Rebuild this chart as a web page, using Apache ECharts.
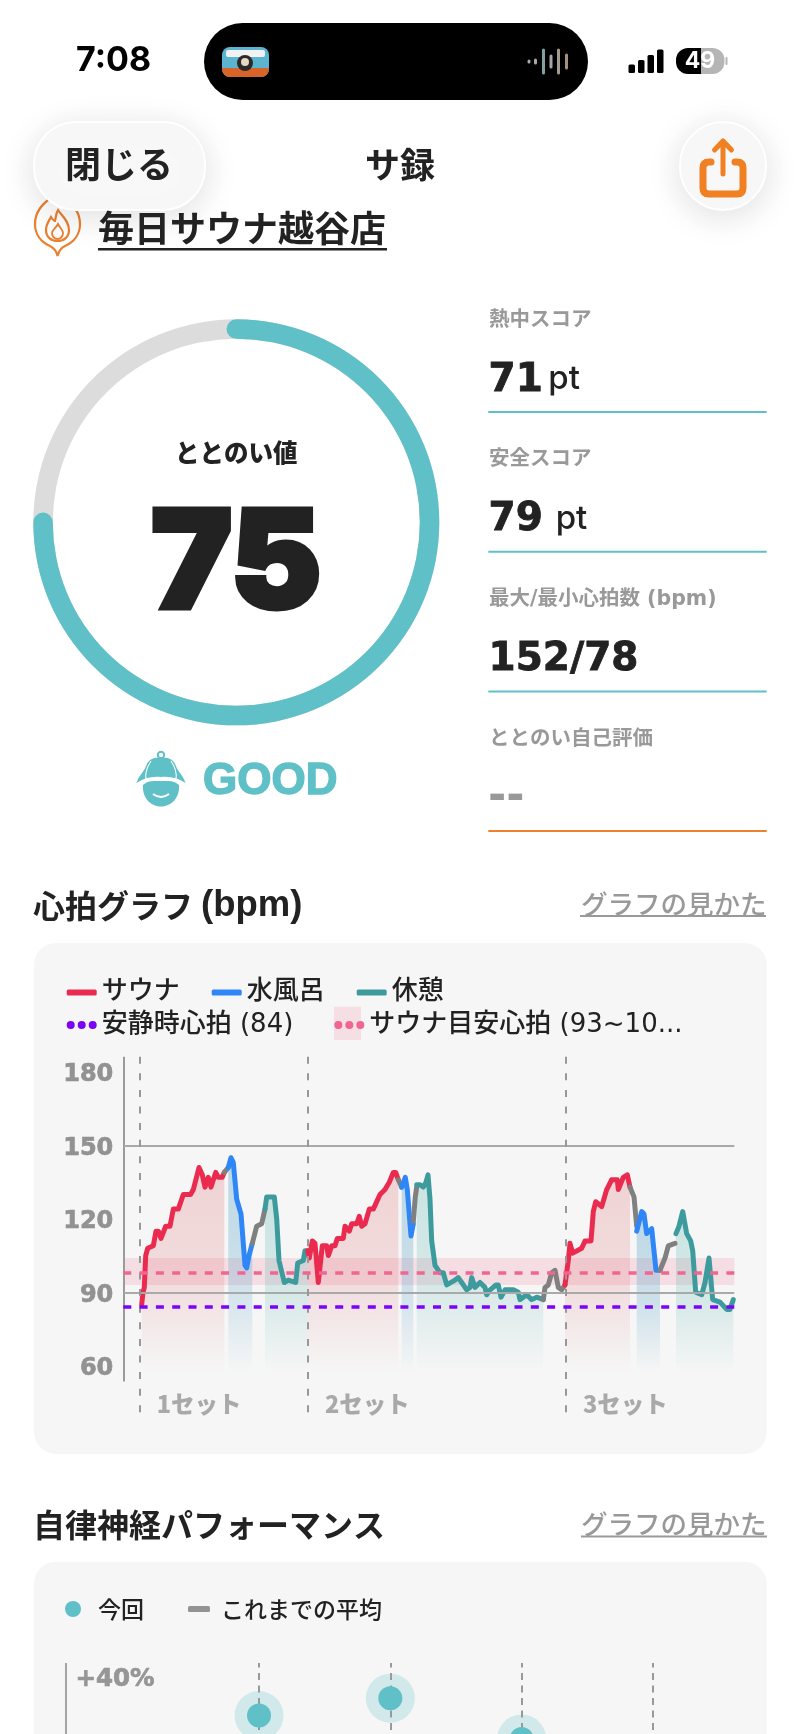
<!DOCTYPE html>
<html><head><meta charset="utf-8">
<style>html,body{margin:0;padding:0;background:#fff}#c{width:800px;height:1734px}</style>
<script src="https://cdn.jsdelivr.net/npm/echarts@6/dist/echarts.min.js"></script>
</head><body><div id="c"></div>
<script>
// ---- gauge and score data
const totalScore = 75;
const scoreLabels = ['熱中スコア','安全スコア','最大/最小心拍数 (bpm)','ととのい自己評価'];
const scoreValues = ['71','79','152/78','--'];
const scoreUnits = ['pt','pt','',''];
// ---- heart rate: [elapsed position, bpm]
const yTicks = [60,90,120,150,180];
const restingHr = 84;
const targetLow = 93, targetMid = 98, targetHigh = 104;
const setStarts = [16.4,184.4,442.4];
const setLabels = ['1セット','2セット','3セット'];
const setLabelPos = [33.4,201.7,459.7];
const sauna1 = [[18.4,85],[19.7,90],[21,92],[22.4,105],[24.4,108],[30,109],[32.7,115],[35,115],[37.7,112],[42.4,117],[46.7,117],[50,124],[55,124],[60,130],[67.4,130],[70,132],[75.7,141],[79,138],[81.7,133],[85,137],[87.7,133],[92.4,139],[95,137],[99,137],[101,139]];
const move1a = [[101,139],[105,141]];
const water1 = [[105,141],[107.7,145],[110,143],[113.4,128],[117.7,122],[121.7,101],[123.4,100],[125.7,105],[129,110]];
const move1b = [[129,110],[133.4,117],[138.4,118],[141.7,124]];
const rest1 = [[141.7,124],[143.4,129],[151,129],[153.4,120],[155.7,103],[161,94],[165,95],[172.4,94],[174.4,102],[180,103],[181.7,107],[184.4,107]];
const sauna2 = [[184.4,107],[186,104],[189,111],[191.7,110],[195,94],[199,109],[203.4,109],[205,105],[208.4,109],[211.7,109],[214,112],[220,112],[221.7,117],[226,115],[228.4,118],[233.4,118],[236,121],[238.4,117],[241.7,118],[246,124],[250,124],[256.7,130],[261.7,132],[266,135],[270,139],[272.4,139],[275,136]];
const move2a = [[275,136],[278.4,133]];
const water2 = [[278.4,133],[280,133],[282,137],[284,132],[286.7,118],[287.7,113],[290,118]];
const move2b = [[290,119],[292,129],[293.4,133]];
const rest2 = [[293.4,134],[296.7,134],[300,133],[302.7,135],[304.7,138],[306.7,128],[308.4,111],[311.7,101],[316.7,98],[320,98],[323.4,93],[331.7,95],[335,96],[338.4,94],[343.4,91],[346.7,92],[348.4,96],[351.7,92],[356.7,94],[361.7,92],[363.4,89],[366.7,91],[372.7,93],[375,93],[377.7,88],[381.7,91],[390,91],[395,90],[396.7,87],[403.4,89],[408.4,87],[413.4,88],[420,87]];
const move3a = [[420,87],[421.7,92],[425,93],[428.4,98],[431.7,99],[435,92],[438.4,91],[441.7,93]];
const sauna3 = [[441.7,93],[445,103],[446.7,110],[449.4,106],[458.4,108],[461.7,111],[467.7,111],[470,123],[472.4,127],[478.4,125],[483.4,132],[488.4,136],[494,136],[495,132],[500,137],[504,138],[506.7,133]];
const move3b = [[506.7,133],[510.7,129],[513.4,117]];
const water3 = [[513.4,115],[518.4,123],[520.7,122],[523.4,114],[528.4,116],[532.7,99],[536.7,99]];
const move3c = [[536.7,99],[541.7,104],[545,109],[551.7,110]];
const rest3 = [[552.7,114],[555.7,117],[559.4,123],[563.4,114],[567.4,111],[569.4,107],[572.4,90],[578.4,89],[581.7,94],[585.7,104],[589.4,87],[596.7,86],[603.4,83],[606.7,83],[610,87]];
// ---- autonomic performance
const perfPositions = [0,1,2,3];
const perfToday = [27.8,33.6,20];

// ---- style helpers
const TEAL='#5fc0c8', INK='#222222', GREY='#999999', ORANGE='#ef8030';
const SANS='Inter,"Noto Sans CJK JP",sans-serif', JP='"Noto Sans CJK JP",sans-serif', WIDE='"DejaVu Sans",sans-serif', WIDEJP='"DejaVu Sans","Noto Sans CJK JP",sans-serif', HEL='"Liberation Sans",sans-serif';
const RED='#ea2a4f', BLUE='#2f87f7', GREEN='#3e9b9d', MOVE='#808080';
const T=(text,x,y,o={})=>({type:'text',x,y,z:11,silent:true,style:Object.assign({text,fontFamily:JP,fontSize:20,fontWeight:700,fill:INK,align:'left',verticalAlign:'middle'},o)});
const R=(x,y,width,height,fill,r=0,extra={})=>({type:'rect',z:extra.z==null?0:extra.z,silent:true,shape:{x,y,width,height,r},style:Object.assign({fill},extra.style||{})});
const shadow={shadowBlur:34,shadowColor:'rgba(0,0,0,0.13)',shadowOffsetY:6,stroke:'#ffffff',lineWidth:2};

const graphics=[
  // status bar
  T('7:08',76,61,{fontFamily:SANS,fontSize:34,fontWeight:700,fill:'#000'}),
  R(204,23,384,77,'#000',38.5),
  R(222,47,47,30,'#5bb5d0',8,{z:1}),
  R(222,68,47,9,'#d9642a',[0,0,8,8],{z:1}),
  R(226,50,39,7,'#f2f2f2',2,{z:1}),
  {type:'circle',z:2,silent:true,shape:{cx:245,cy:63,r:8},style:{fill:'#2a2a2a'}},
  {type:'circle',z:2,silent:true,shape:{cx:245,cy:62,r:4},style:{fill:'#e8d8c0'}},
  R(527.5,59.5,3,4,'#a8a8a8',1.5,{z:1}),R(534,58.5,3,6,'#a8a8a8',1.5,{z:1}),
  R(542,48.5,3,26,'#7fa3a3',1.5,{z:1}),R(549.5,54.5,3,14,'#a5a5a5',1.5,{z:1}),
  R(557,48.5,3,26,'#a39a8e',1.5,{z:1}),R(565,53.5,3,16,'#a3917f',1.5,{z:1}),
  R(628.5,64.5,6.5,8.5,'#000',1.5),R(638,60,6.5,13,'#000',1.5),R(647.5,55,6.5,18,'#000',1.5),R(657,49.5,6.5,23.5,'#000',1.5),
  R(676,48,25,26,'#000',[12,0,0,12]),R(701,48,23.5,26,'#b5b5b5',[0,12,12,0]),R(725.5,57,2,8,'#b5b5b5',1),
  T('49',700,61.5,{fontFamily:SANS,fontSize:23,fontWeight:700,fill:'#fff',align:'center'}),
  // header
  R(34,122,171,88,'#f8f8f8',42,{z:10,style:shadow}),
  R(680,122,86,88,'#f8f8f8',43,{z:10,style:shadow}),
  T('閉じる',119,164,{fontSize:36,fontWeight:600,align:'center'}),
  T('サ録',400,164.5,{fontSize:35,fontWeight:700,align:'center'}),
  T('毎日サウナ越谷店',98,228,{fontSize:36,fontWeight:700}),
  R(98,248,289,2.5,INK),
  // gauge extras
  T('GOOD',203,782,{fontFamily:HEL,fontSize:44,fontWeight:700,fill:TEAL,stroke:TEAL,lineWidth:1.4}),
  // score lines
  R(488.3,411,278.4,2,TEAL),R(488.3,550.8,278.4,2,TEAL),R(488.3,690.4,278.4,2,TEAL),R(488.3,830,278.4,2,ORANGE),
  // section 1
  T('心拍グラフ',33,906,{fontFamily:JP,fontSize:32,fontWeight:700}),
  T('(bpm)',201,906,{fontFamily:HEL,fontSize:36.5,fontWeight:700}),
  T('グラフの見かた',581,904,{fontSize:26.5,fontWeight:500,fill:GREY}),
  R(580,915,186,2,GREY),
  R(34,943,732.7,511,'#f6f6f6',22),
  R(334,1006.7,27,33.3,'#f5dfe5'),
  // section 2
  T('自律神経パフォーマンス',33,1525,{fontSize:32,fontWeight:700}),
  T('グラフの見かた',581,1524,{fontSize:26.5,fontWeight:500,fill:GREY}),
  R(581,1535.5,186,2,GREY),
  R(34,1561.7,732.7,200,'#f6f6f6',22),
  T('+40%',75.5,1679.3,{fontFamily:WIDE,fontSize:24.5,fontWeight:700,fill:'#969696',stroke:'#969696',lineWidth:0.7})
];
// score panel text comes from the arrays
const labelY=[320.3,460,600,739.5], valueY=[380.5,520,660,799], unitX=[548.3,555.7];
scoreLabels.forEach((s,i)=>{
  graphics.push(T(s,489,labelY[i],{fontFamily:WIDEJP,fontSize:20.5,fontWeight:700,fill:GREY}));
  graphics.push(i===3
    ? T(scoreValues[i],488,valueY[i],{fontFamily:WIDE,fontSize:44,fontWeight:700,fill:GREY})
    : T(scoreValues[i],488.5,valueY[i],{fontFamily:WIDE,fontSize:39,fontWeight:700,fill:INK,stroke:INK,lineWidth:0.8}));
  if(scoreUnits[i])graphics.push(T(scoreUnits[i],unitX[i],valueY[i]-1,{fontFamily:SANS,fontSize:33,fontWeight:500}));
});

const areaOf=(rgb,a)=>({origin:57,opacity:1,color:{type:'linear',x:0,y:0,x2:0,y2:1,colorStops:[{offset:0,color:`rgba(${rgb},${a})`},{offset:0.55,color:`rgba(${rgb},${a*0.72})`},{offset:1,color:`rgba(${rgb},0)`}]}});
const RED_A=areaOf('214,70,76',0.2), BLUE_A=areaOf('50,145,190',0.3), GREEN_A=areaOf('60,170,160',0.24);
const lineSeries=(name,data,color,area)=>({type:'line',name,data,xAxisIndex:0,yAxisIndex:0,symbol:'none',smooth:false,silent:true,
  lineStyle:{color,width:5,join:'round',cap:'round'},itemStyle:{color},areaStyle:area||undefined,z:2});

const dash=[7,9.6];
const chartSeries=[
  lineSeries('サウナ',sauna1,RED,RED_A),lineSeries('移動',move1a,MOVE),lineSeries('水風呂',water1,BLUE,BLUE_A),lineSeries('移動',move1b,MOVE),lineSeries('休憩',rest1,GREEN,GREEN_A),
  lineSeries('サウナ',sauna2,RED,RED_A),lineSeries('移動',move2a,MOVE),lineSeries('水風呂',water2,BLUE,BLUE_A),lineSeries('移動',move2b,MOVE),lineSeries('休憩',rest2,GREEN,GREEN_A),
  lineSeries('移動',move3a,MOVE),lineSeries('サウナ',sauna3,RED,RED_A),lineSeries('移動',move3b,MOVE),lineSeries('水風呂',water3,BLUE,BLUE_A),lineSeries('移動',move3c,MOVE),lineSeries('休憩',rest3,GREEN,GREEN_A),
  // axis line, grid lines and set dividers
  {type:'line',name:'guides',data:[],xAxisIndex:0,yAxisIndex:0,silent:true,
    markLine:{silent:true,animation:false,symbol:'none',label:{show:false},data:[
      [{coord:[0,186.3],lineStyle:{color:'#9b9b9b',width:2,type:'solid'}},{coord:[0,53.5]}],
      ...[90,150].map(v=>[{coord:[0.7,v],lineStyle:{color:'#a9a9a9',width:2,type:'solid'}},{coord:[611,v]}]),
      ...setStarts.map(t=>[{coord:[t,186.3],lineStyle:{color:'#989898',width:2,type:dash}},{coord:[t,37.1]}])
    ]}},
  {type:'line',name:'安静時心拍 (84)',data:[],xAxisIndex:0,yAxisIndex:0,silent:true,itemStyle:{color:'#7b04f8'},lineStyle:{color:'#7b04f8'},
    markLine:{silent:true,animation:false,symbol:'none',label:{show:false},lineStyle:{color:'#7b04f8',width:3.6,type:[8,8.3]},data:[{yAxis:restingHr}]}},
  {type:'line',name:'サウナ目安心拍 (93~10...',data:[],xAxisIndex:0,yAxisIndex:0,silent:true,itemStyle:{color:'#ef6690'},lineStyle:{color:'#ef6690'},
    markLine:{silent:true,animation:false,symbol:'none',label:{show:false},lineStyle:{color:'#ef6690',width:3.6,type:[8,8.3]},data:[{yAxis:targetMid}]},
    markArea:{silent:true,animation:false,itemStyle:{color:'rgba(238,90,130,0.15)'},data:[[{yAxis:targetLow},{yAxis:targetHigh}]]}},
  // set names
  {type:'scatter',name:'sets',xAxisIndex:0,yAxisIndex:0,silent:true,symbolSize:0,z:6,
    data:setLabelPos.map((t,i)=>({value:[t,44.2],label:{show:true,position:'right',distance:0,formatter:setLabels[i],fontFamily:JP,fontSize:23.5,fontWeight:900,color:'#969696'}}))}
];

// perf chart
const perfSeries=[
  {type:'scatter',name:'halo',xAxisIndex:1,yAxisIndex:1,silent:true,symbolSize:49,z:2,itemStyle:{color:'#d1e9ea',opacity:1},data:perfToday.map((v,i)=>[perfPositions[i],v])},
  {type:'line',name:'dividers',xAxisIndex:1,yAxisIndex:1,data:[],silent:true,
    markLine:{silent:true,animation:false,symbol:'none',label:{show:false},z:3,lineStyle:{color:'#999',width:2,type:[7,5.5]},data:perfPositions.map(p=>({xAxis:p}))}},
  {type:'line',name:'axis',xAxisIndex:1,yAxisIndex:1,data:[],silent:true,
    markLine:{silent:true,animation:false,symbol:'none',label:{show:false},z:3,lineStyle:{color:'#a5a5a5',width:2,type:'solid'},data:[{xAxis:-1.47}]}},
  {type:'scatter',name:'今回',xAxisIndex:1,yAxisIndex:1,silent:true,symbolSize:24,z:6,itemStyle:{color:TEAL,opacity:1},data:perfToday.map((v,i)=>[perfPositions[i],v])},
  {type:'line',name:'これまでの平均',xAxisIndex:1,yAxisIndex:1,data:[],silent:true,itemStyle:{color:'#939393'},lineStyle:{color:'#939393'}}
];

// icons that need free paths
const iconSeries=(z,children)=>({type:'custom',coordinateSystem:'none',silent:true,z,data:[0],renderItem:()=>({type:'group',children})});
const P=(d,style)=>({type:'path',shape:{pathData:d},style});
const flame=iconSeries(1,[
  P('M57.6 256 C56.5 251 54 248 50 246 C41 242 35 234 35 224 C35 213 42 204 51 198 M57.6 256 C58.7 251 61 248 65 246 C74 242 80 234 80 224 C80 213 73 204 64 198',{fill:'none',stroke:'#ea8030',lineWidth:2.2}),
  P('M58 210 C62 216 69 221 69 230 C69 237 64 241 57.6 241 C51 241 46 237 46 230 C46 224 49 221 51 217 C53 220 54 221 55 221 C56 217 56 213 58 210 Z',{fill:'none',stroke:'#ea8030',lineWidth:2.2}),
  P('M58 224 C60 228 63 230 63 233 C63 237 60 239 57.6 239 C55 239 52 237 52 233 C52 230 56 228 58 224 Z',{fill:'none',stroke:'#ea8030',lineWidth:1.8})
]);
const share=iconSeries(12,[
  P('M711 162 H709 Q703 162 703 168 V188 Q703 194 709 194 H737 Q743 194 743 188 V168 Q743 162 737 162 H735',{fill:'none',stroke:'#f08022',lineWidth:7,lineCap:'round'}),
  P('M723 174 V143 M714.5 150 L723 141 L731.5 150',{fill:'none',stroke:'#f08022',lineWidth:5,lineCap:'round',lineJoin:'round'})
]);
const hat=iconSeries(3,[
  {type:'circle',shape:{cx:161,cy:755,r:3.2},style:{fill:'none',stroke:TEAL,lineWidth:2}},
  P('M136.5 783 C139 775 144 772 146 766 C149 758 155 757.5 161 757.5 C167 757.5 173 758 176 766 C178 772 183 775 185.5 783 C178 778 170 776 161 777 C152 776 144 778 136.5 783 Z',{fill:TEAL}),
  P('M151 761 C147 767 145 773 146 779 M171 761 C175 767 177 773 176 779',{fill:'none',stroke:'#fff',lineWidth:1.1}),
  P('M143 785 C148 780 154 781 161 781 C168 781 174 780 179 785 C180 797 172 806.5 161 806.5 C150 806.5 142 797 143 785 Z',{fill:TEAL}),
  P('M153 794 Q161 800 169 794',{fill:'none',stroke:'#fff',lineWidth:2})
]);

const gauge={type:'gauge',center:[236.3,522.3],radius:203,startAngle:90,endAngle:-270,min:0,max:100,silent:true,z:3,animation:false,
  progress:{show:true,width:19.5,roundCap:true,itemStyle:{color:TEAL}},
  axisLine:{lineStyle:{width:19.5,color:[[1,'#dcdcdc']]}},
  pointer:{show:false},axisTick:{show:false},splitLine:{show:false},axisLabel:{show:false},anchor:{show:false},
  title:{fontFamily:JP,fontSize:24.5,fontWeight:800,color:INK},
  detail:{formatter:'{value}',fontFamily:SANS,fontSize:136,fontWeight:900,color:INK,textBorderColor:INK,textBorderWidth:5,width:220,height:120,lineHeight:120},
  data:[{value:totalScore,name:'ととのい値',title:{offsetCenter:[0,-70]},detail:{offsetCenter:[0,45]}}]};

const legendText={fontFamily:WIDEJP,fontSize:26,fontWeight:500,color:INK,lineHeight:30};
const dots='path://M4 0a4 4 0 1 0 0.01 0zM15 0a4 4 0 1 0 0.01 0zM26 0a4 4 0 1 0 0.01 0z';
const tickStyle={fontFamily:WIDE,fontSize:24,fontWeight:700,color:'#929292',textBorderColor:'#929292',textBorderWidth:0.7,padding:[6,0,0,0]};
const option={
  animation:false,backgroundColor:'#fff',
  graphic:{elements:graphics},
  legend:[
    {left:66.7,top:977.5,padding:0,orient:'horizontal',itemWidth:30,itemHeight:6,itemGap:32,selectedMode:false,textStyle:legendText,icon:'roundRect',data:['サウナ','水風呂','休憩']},
    {left:66.7,top:1010,padding:0,orient:'horizontal',itemWidth:30,itemHeight:8,itemGap:41,selectedMode:false,textStyle:legendText,icon:dots,data:['安静時心拍 (84)','サウナ目安心拍 (93~10...']},
    {left:65,top:1594,padding:0,itemWidth:16,itemHeight:16,selectedMode:false,icon:'circle',textStyle:{fontFamily:JP,fontSize:23,fontWeight:500,color:INK,lineHeight:30,padding:[0,0,0,12]},data:['今回']},
    {left:188,top:1594,padding:0,itemWidth:22,itemHeight:6,selectedMode:false,icon:'roundRect',textStyle:{fontFamily:JP,fontSize:23,fontWeight:500,color:INK,lineHeight:30,padding:[0,0,0,6]},data:['これまでの平均']}
  ],
  grid:[
    {left:123.3,top:1056.7,width:611,height:365,outerBoundsMode:'none'},
    {left:66,top:1663,width:700,height:117,outerBoundsMode:'none'}
  ],
  xAxis:[
    {gridIndex:0,type:'value',min:0,max:611,show:false,splitLine:{show:false}},
    {gridIndex:1,type:'value',min:-1.47,max:3.861,show:false,splitLine:{show:false}}
  ],
  yAxis:[
    {gridIndex:0,type:'value',min:37.1,max:186.3,axisLine:{show:false},axisTick:{show:false},splitLine:{show:false},
      axisLabel:{customValues:yTicks,margin:10,formatter:'{t|{value}}',rich:{t:tickStyle},fontFamily:WIDE,fontSize:24,fontWeight:700,color:'#929292'}},
    {gridIndex:1,type:'value',min:6.33,max:45.33,show:false,splitLine:{show:false}}
  ],
  series:[flame,share,hat,gauge,...chartSeries,...perfSeries]
};
const chart=echarts.init(document.getElementById('c'),null,{renderer:'canvas',width:800,height:1734});
chart.setOption(option);
</script></body></html>
